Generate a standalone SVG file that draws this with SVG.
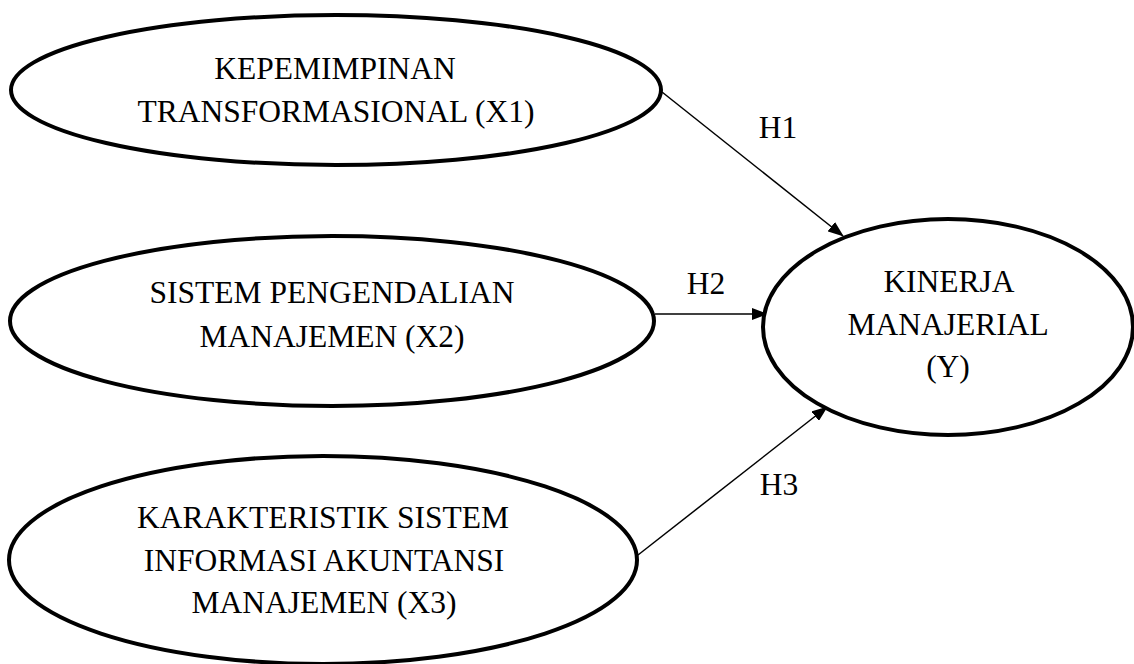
<svg xmlns="http://www.w3.org/2000/svg" width="1134" height="664" viewBox="0 0 1134 664">
<style>
.node ellipse{fill:#fff;stroke:#000;stroke-width:4}
.t{font-family:"Liberation Serif","Times New Roman",serif;font-size:31.5px;fill:#000;text-anchor:middle}
.conn line{stroke:#000;stroke-width:1.5}
</style>
<defs>
<marker id="ah" markerWidth="16" markerHeight="12" refX="15" refY="6" orient="auto" markerUnits="userSpaceOnUse">
<path d="M0,0 L16,6 L0,12 Z" fill="#000"/>
</marker>
</defs>
<rect width="1134" height="664" fill="#fff"/>
<g id="connectors" class="conn">
<line x1="662" y1="92" x2="843" y2="236" marker-end="url(#ah)"/>
<line x1="655" y1="314" x2="767" y2="314" marker-end="url(#ah)"/>
<line x1="638" y1="555" x2="827" y2="407" marker-end="url(#ah)"/>
<text class="t" x="778" y="138">H1</text>
<text class="t" x="706" y="294">H2</text>
<text class="t" x="779" y="495">H3</text>
</g>
<g id="x1" class="node">
<ellipse cx="336" cy="90" rx="325" ry="75"/>
<text class="t" x="335" y="79">KEPEMIMPINAN</text>
<text class="t" x="336" y="122">TRANSFORMASIONAL (X1)</text>
</g>
<g id="x2" class="node">
<ellipse cx="332" cy="321" rx="322" ry="85"/>
<text class="t" x="332" y="303">SISTEM PENGENDALIAN</text>
<text class="t" x="332" y="347">MANAJEMEN (X2)</text>
</g>
<g id="x3" class="node">
<ellipse cx="323" cy="560" rx="314" ry="104"/>
<text class="t" x="323" y="528">KARAKTERISTIK SISTEM</text>
<text class="t" x="324" y="571">INFORMASI AKUNTANSI</text>
<text class="t" x="324" y="613">MANAJEMEN (X3)</text>
</g>
<g id="y" class="node">
<ellipse cx="948" cy="327" rx="185" ry="108"/>
<text class="t" x="949" y="292">KINERJA</text>
<text class="t" x="948" y="335">MANAJERIAL</text>
<text class="t" x="948" y="377">(Y)</text>
</g>
</svg>
